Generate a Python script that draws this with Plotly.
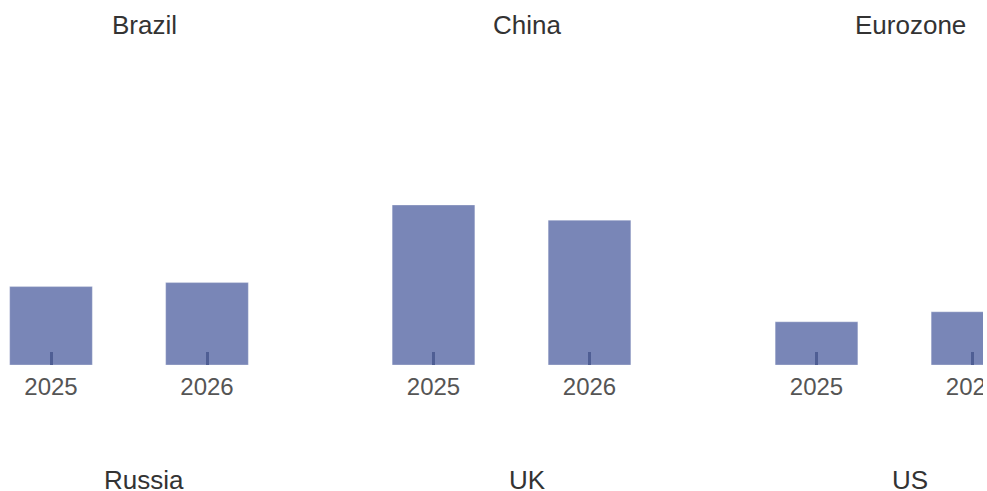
import plotly.graph_objects as go

# ---- data ----
countries_row1 = ["Brazil", "China", "Eurozone"]
countries_row2 = ["Russia", "UK", "US"]
years = ["2025", "2026"]
brazil = [1.96, 2.06]
china = [4.0, 3.62]
eurozone = [1.08, 1.33]
values_row1 = [brazil, china, eurozone]

W, H = 983, 491
BAR_COLOR = "#7986B7"
TICK_COLOR = "#4F5E94"
FONT = "Liberation Sans, Arial, sans-serif"

fig = go.Figure()

# pixel layout of the three visible panels
cat0_px = [51, 433.5, 816.5]   # pixel of first category
unit_px = 156                  # pixels per category step
y0_px, ytop_px = 365, 125      # zero line and top of value axis
lab_bot_px = 410               # bottom of the tick-label strip
lab_mid_px = 388.5             # vertical centre of the year labels
ymax = 6.0

n = len(countries_row1)
for i, (name, vals) in enumerate(zip(countries_row1, values_row1)):
    left = max(0.0, cat0_px[i] - 0.5 * unit_px)
    right = min(W, cat0_px[i] + 1.5 * unit_px)
    r0 = (left - cat0_px[i]) / unit_px
    r1 = (right - cat0_px[i]) / unit_px
    dom_x = [left / W, right / W]

    # bar panel
    k = i + 1
    xa, ya = f"x{k}" if k > 1 else "x", f"y{k}" if k > 1 else "y"
    fig.add_trace(go.Bar(
        x=years, y=vals, xaxis=xa, yaxis=ya, width=0.53,
        marker=dict(color=BAR_COLOR, line=dict(color="rgba(255,255,255,0.6)", width=0.5)),
        showlegend=False, hoverinfo="x+y",
    ))
    fig.update_layout(**{
        ("xaxis" if k == 1 else f"xaxis{k}"): dict(
            domain=dom_x, range=[r0, r1], type="category", anchor=ya,
            showgrid=False, zeroline=False, showline=False,
            ticks="inside", ticklen=13, tickwidth=2.5, tickcolor=TICK_COLOR,
            showticklabels=False, fixedrange=True),
        ("yaxis" if k == 1 else f"yaxis{k}"): dict(
            domain=[1 - y0_px / H, 1 - ytop_px / H], range=[0, ymax],
            anchor=xa, visible=False, fixedrange=True),
    })

    # year-label strip (clipped at the panel edge, like the reference)
    k2 = n + i + 1
    xb, yb = f"x{k2}", f"y{k2}"
    fig.add_trace(go.Scatter(
        x=years, y=[(lab_bot_px - lab_mid_px) / (lab_bot_px - y0_px)] * len(years),
        xaxis=xb, yaxis=yb, mode="text", text=years, textposition="middle center",
        textfont=dict(family=FONT, size=24, color="#555555"),
        cliponaxis=True, showlegend=False, hoverinfo="skip",
    ))
    fig.update_layout(**{
        f"xaxis{k2}": dict(domain=dom_x, range=[r0, r1], type="category", anchor=yb,
                           visible=False, fixedrange=True),
        f"yaxis{k2}": dict(domain=[1 - lab_bot_px / H, 1 - y0_px / H], range=[0, 1],
                           anchor=xb, visible=False, fixedrange=True),
    })

# panel titles
title_x = [144, 527, 910]
for name, x in zip(countries_row1, title_x):
    fig.add_annotation(text=name, x=x / W, y=1 - 25 / H, xref="paper", yref="paper",
                       xanchor="center", yanchor="middle", showarrow=False,
                       font=dict(family=FONT, size=26, color="#333333"))
for name, x in zip(countries_row2, title_x):
    fig.add_annotation(text=name, x=x / W, y=1 - 480 / H, xref="paper", yref="paper",
                       xanchor="center", yanchor="middle", showarrow=False,
                       font=dict(family=FONT, size=26, color="#333333"))

fig.update_layout(
    width=W, height=H, margin=dict(l=0, r=0, t=0, b=0),
    plot_bgcolor="white", paper_bgcolor="white",
)

fig.write_html("out.html")
